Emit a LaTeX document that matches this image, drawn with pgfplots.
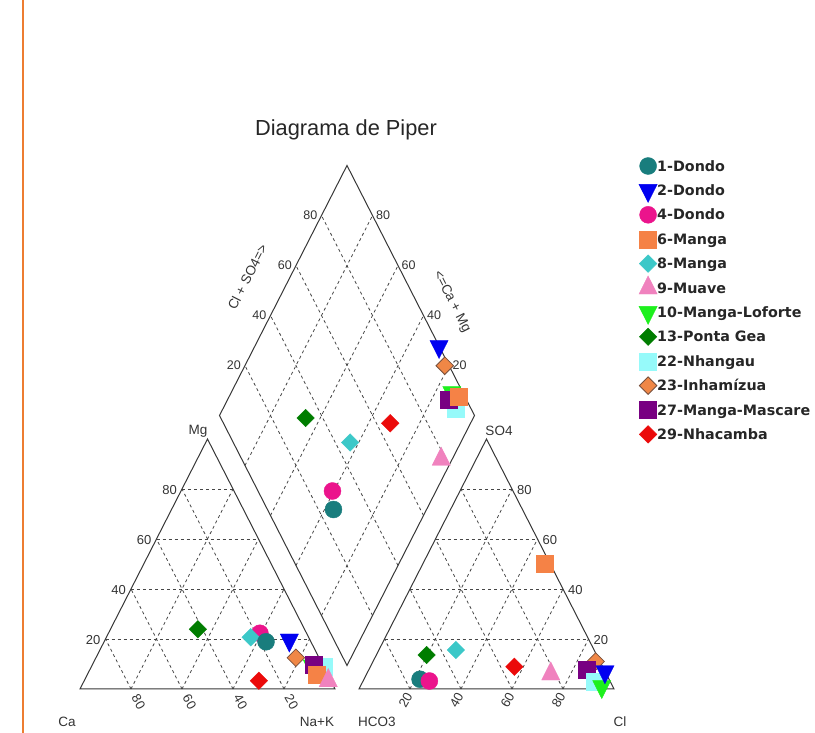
\documentclass[border=0pt]{standalone}
\usepackage{pgfplots}
\pgfplotsset{compat=1.18}
\usepackage{pgfplotstable}
\usepackage{fontspec}
\setmainfont{Liberation Sans}
\newfontfamily\legfont{DejaVu Sans}

\definecolor{c1}{RGB}{25,125,125}
\definecolor{c2}{RGB}{0,0,240}
\definecolor{c4}{RGB}{235,20,140}
\definecolor{c6}{RGB}{245,130,70}
\definecolor{c8}{RGB}{60,200,200}
\definecolor{c9}{RGB}{240,130,190}
\definecolor{c10}{RGB}{30,240,30}
\definecolor{c13}{RGB}{0,125,0}
\definecolor{c22}{RGB}{150,250,250}
\definecolor{c23}{RGB}{240,135,70}
\definecolor{c23e}{RGB}{120,80,60}
\definecolor{c27}{RGB}{120,0,130}
\definecolor{c29}{RGB}{235,10,10}
\definecolor{frame}{RGB}{55,55,55}
\definecolor{gridc}{RGB}{70,70,70}
\definecolor{border}{RGB}{237,125,49}

% percentages: Mg and Na+K (cations), SO4 and Cl (anions); row index 0..11
\pgfplotstableread{
id  Mg    NaK   SO4   Cl
1   18.9  63.5  3.9   22.0
2   19.6  72.3  6.9   93.0
4   22.3  59.4  3.2   26.0
6   5.6   90.0  50.0  47.7
8   20.7  56.6  15.6  30.2
9   3.3   95.7  6.0   72.2
10  9.2   86.5  1.0   94.7
13  23.9  34.3  13.6  19.7
22  8.9   91.0  2.9   91.0
23  12.5  78.4  11.0  87.3
27  9.6   86.7  7.6   85.5
29  3.3   68.5  8.9   56.5
}\piperdata

\pgfplotsset{
 mcirc/.style={mark=*, mark size=8.5pt, color=#1, mark options={fill=#1, draw=#1}},
 mtridown/.style={mark=triangle*, mark size=10.5pt, color=#1, mark options={fill=#1, draw=#1, rotate=180, yscale=1.15}},
 mtriup/.style={mark=triangle*, mark size=10.5pt, color=#1, mark options={fill=#1, draw=#1, yscale=1.15}},
 msq/.style={mark=square*, mark size=8.5pt, color=#1, mark options={fill=#1, draw=#1}},
 mdia/.style={mark=square*, mark size=6.2pt, color=#1, mark options={fill=#1, draw=#1, rotate=45}},
 mdiaE/.style={mark=square*, mark size=6.2pt, color=c23e, mark options={fill=c23, draw=c23e, line width=0.8pt, rotate=45}},
 s0/.style={mcirc=c1}, s1/.style={mtridown=c2}, s2/.style={mcirc=c4},
 s3/.style={msq=c6}, s4/.style={mdia=c8}, s5/.style={mtriup=c9},
 s6/.style={mtridown=c10}, s7/.style={mdia=c13}, s8/.style={msq=c22},
 s9/.style={mdiaE}, s10/.style={msq=c27}, s11/.style={mdia=c29},
}

% cation triangle, anion triangle, central diamond
\newcommand\cat[1]{\addplot[s#1, forget plot, restrict expr to domain={\coordindex}{#1:#1}] table[x expr={80+2.55*(\thisrow{NaK}+0.5*\thisrow{Mg})}, y expr={689-2.5*\thisrow{Mg}}]{\piperdata};}
\newcommand\ani[1]{\addplot[s#1, forget plot, restrict expr to domain={\coordindex}{#1:#1}] table[x expr={359+2.55*(\thisrow{Cl}+0.5*\thisrow{SO4})}, y expr={689-2.5*\thisrow{SO4}}]{\piperdata};}
\newcommand\dia[1]{\addplot[s#1, forget plot, restrict expr to domain={\coordindex}{#1:#1}] table[x expr={347+1.275*(\thisrow{SO4}+\thisrow{Cl}-100+\thisrow{NaK})}, y expr={665.5-2.5*(100-\thisrow{NaK}+\thisrow{SO4}+\thisrow{Cl})}]{\piperdata};}

\begin{document}
\begin{tikzpicture}
\begin{scope}[x=1pt, y=-1pt, shift={(0pt,733pt)},
  fr/.style={draw=frame, line width=1pt, line join=miter},
  gr/.style={draw=gridc, line width=0.8pt, dash pattern=on 3pt off 3pt},
  lab/.style={font=\fontsize{13}{15}\selectfont, text=black!80, inner sep=0pt},
  labd/.style={font=\fontsize{12.5}{14}\selectfont, text=black!80, inner sep=0pt},
  ttl/.style={font=\fontsize{13.5}{16}\selectfont, text=black!80, inner sep=0pt}]
 % orange border line
 \draw[border, line width=2pt] (23,0) -- (23,733);
 % grids
 \foreach \i in {20,40,60,80}{
   % cation triangle
   \draw[gr] ({80+1.275*\i},{689-2.5*\i}) -- ({335-1.275*\i},{689-2.5*\i});
   \draw[gr] ({80+2.55*\i},689) -- ({207.5+1.275*\i},{439+2.5*\i});
   \draw[gr] ({335-2.55*\i},689) -- ({207.5-1.275*\i},{439+2.5*\i});
   % anion triangle
   \draw[gr] ({359+1.275*\i},{689-2.5*\i}) -- ({614-1.275*\i},{689-2.5*\i});
   \draw[gr] ({359+2.55*\i},689) -- ({486.5+1.275*\i},{439+2.5*\i});
   \draw[gr] ({614-2.55*\i},689) -- ({486.5-1.275*\i},{439+2.5*\i});
   % diamond
   \draw[gr] ({347+1.275*\i},{665.5-2.5*\i}) -- ({347+1.275*(\i-100)},{665.5-2.5*(100+\i)});
   \draw[gr] ({347-1.275*\i},{665.5-2.5*\i}) -- ({347+1.275*(100-\i)},{665.5-2.5*(100+\i)});
   % labels
   \node[lab, anchor=east] at ({80+1.275*\i-5},{689-2.5*\i+1.5}) {\i};
   \node[lab, anchor=west] at ({614-1.275*\i+5},{689-2.5*\i+1.5}) {\i};
   \node[lab, rotate=-60] at ({80+2.55*(100-\i)+7.5},702) {\i};
   \node[lab, rotate=60] at ({359+2.55*\i-4.5},700) {\i};
   \node[labd, anchor=east] at ({219.5+1.275*\i-4},{415.5-2.5*\i}) {\i};
   \node[labd, anchor=west] at ({474.5-1.275*\i+3.5},{415.5-2.5*\i}) {\i};
 }
 % outlines
 \draw[fr] (80,689) -- (335,689) -- (207.5,439) -- cycle;
 \draw[fr] (359,689) -- (614,689) -- (486.5,439) -- cycle;
 \draw[fr] (347,665.5) -- (219.5,415.5) -- (347,165.5) -- (474.5,415.5) -- cycle;
 % titles
 \node[font=\fontsize{21.8}{26}\selectfont, text=black!85, anchor=base, inner sep=0pt] at (346,136) {Diagrama de Piper};
 \node[ttl] at (198,431) {Mg};
 \node[ttl] at (499,431) {SO4};
 \node[ttl] at (67,722) {Ca};
 \node[ttl] at (317,722) {Na+K};
 \node[ttl] at (377,722) {HCO3};
 \node[ttl] at (620,722) {Cl};
 \node[ttl, rotate=63] at (247.5,277) {Cl + SO4=>};
 \node[ttl, rotate=-63] at (451.7,301.5) {<=Ca + Mg};
\end{scope}
\begin{axis}[
  at={(0pt,0pt)}, anchor=south west,
  scale only axis, width=815pt, height=733pt,
  xmin=0, xmax=815, ymin=0, ymax=733, y dir=reverse,
  hide axis, clip=false,
  legend image code/.code={\path[draw=none, fill=none] (-9pt,-12.2pt) rectangle (9pt,12.2pt); \draw[#1] plot coordinates {(0pt,0pt)};},
  legend style={draw=none, fill=none, inner sep=0pt, outer sep=0pt, row sep=0pt, column sep=0pt,
    at={(0.78405,0.79018)}, anchor=north west,
    font=\legfont\bfseries\fontsize{14.3}{16}\selectfont,
    cells={anchor=west},
    nodes={inner sep=0pt, text height=10.2pt, text depth=0pt, text=black!85}},
]
% legend (in sample order)
\addlegendimage{s0}\addlegendentry{1-Dondo}
\addlegendimage{s1}\addlegendentry{2-Dondo}
\addlegendimage{s2}\addlegendentry{4-Dondo}
\addlegendimage{s3}\addlegendentry{6-Manga}
\addlegendimage{s4}\addlegendentry{8-Manga}
\addlegendimage{s5}\addlegendentry{9-Muave}
\addlegendimage{s6}\addlegendentry{10-Manga-Loforte}
\addlegendimage{s7}\addlegendentry{13-Ponta Gea}
\addlegendimage{s8}\addlegendentry{22-Nhangau}
\addlegendimage{s9}\addlegendentry{23-Inhamízua}
\addlegendimage{s10}\addlegendentry{27-Manga-Mascare}
\addlegendimage{s11}\addlegendentry{29-Nhacamba}
% cation triangle, back to front
\cat{7}\cat{11}\cat{2}\cat{4}\cat{0}\cat{1}\cat{9}\cat{6}\cat{8}\cat{10}\cat{3}\cat{5}
% anion triangle
\ani{0}\ani{2}\ani{7}\ani{4}\ani{11}\ani{5}\ani{9}\ani{10}\ani{8}\ani{6}\ani{1}\ani{3}
% diamond
\dia{7}\dia{11}\dia{4}\dia{0}\dia{2}\dia{5}\dia{1}\dia{9}\dia{8}\dia{6}\dia{10}\dia{3}
\end{axis}
\pgfresetboundingbox
\path[use as bounding box] (0,0) rectangle (815pt,733pt);
\end{tikzpicture}
\end{document}
